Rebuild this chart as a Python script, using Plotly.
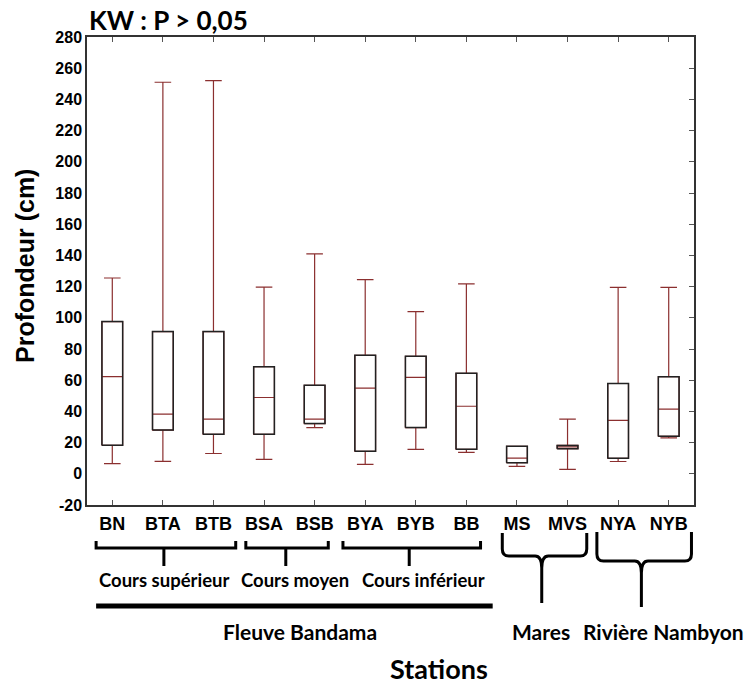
import plotly.graph_objects as go

# ---------------- data ----------------
stations = ["BN", "BTA", "BTB", "BSA", "BSB", "BYA", "BYB", "BB", "MS", "MVS", "NYA", "NYB"]
lower_whisker = [6.5, 8.0, 13.0, 9.2, 29.6, 6.0, 15.7, 13.7, 4.7, 2.8, 7.9, 23.0]
q1_values     = [18.3, 28.0, 25.3, 25.3, 32.2, 14.4, 29.6, 15.7, 7.1, 16.1, 9.9, 24.0]
median_values = [62.3, 38.2, 35.0, 48.9, 35.0, 54.9, 61.8, 43.3, 10.1, 17.2, 34.3, 41.4]
q3_values     = [97.6, 91.2, 91.2, 68.7, 56.7, 76.0, 75.3, 64.4, 17.6, 18.2, 57.9, 62.2]
upper_whisker = [125.5, 251.0, 252.0, 119.7, 141.0, 124.5, 104.0, 121.7, 17.6, 35.0, 119.5, 119.5]
y_ticks = list(range(-20, 281, 20))

title_text = "KW : P > 0,05"
y_title = "Profondeur (cm)"
x_title = "Stations"
sub_groups = ["Cours supérieur", "Cours moyen", "Cours inférieur"]
main_groups = ["Fleuve Bandama", "Mares", "Rivière Nambyon"]

# ---------------- layout helpers ----------------
W, H = 748, 699
L, R, T, B = 87, 54, 37, 194
PLOT_H = H - T - B
BOTTOM_PX = H - B

def Y(py):
    """pixel row -> paper y"""
    return (BOTTOM_PX - py) / PLOT_H

x_pos = list(range(len(stations)))
box_w = 0.41
half = box_w / 2

whisker_col = "#8b2f2f"
calibri_like = "Lato"
arial_like = "Liberation Sans, Arial"

fig = go.Figure()

# boxes with red whiskers / medians
fig.add_trace(go.Box(
    x=x_pos, q1=q1_values, median=median_values, q3=q3_values,
    lowerfence=lower_whisker, upperfence=upper_whisker,
    width=box_w, whiskerwidth=0.8,
    line=dict(color=whisker_col, width=1.2),
    fillcolor="white", boxpoints=False, hoverinfo="skip", showlegend=False,
))

# black box outlines drawn over the boxes
rx, ry = [], []
for xi, a, b in zip(x_pos, q1_values, q3_values):
    rx += [xi - half, xi + half, xi + half, xi - half, xi - half, None]
    ry += [a, a, b, b, a, None]
fig.add_trace(go.Scatter(x=rx, y=ry, mode="lines",
                         line=dict(color="#222222", width=1.5),
                         hoverinfo="skip", showlegend=False))

# invisible trace to hold the right-side tick axis
fig.add_trace(go.Scatter(x=x_pos, y=median_values, mode="none", yaxis="y2",
                         hoverinfo="skip", showlegend=False))

shapes = []
# square brackets under the Bandama sub-reaches
brackets = [(-0.32, 2.44, 1.02), (2.64, 4.27, 3.43), (4.56, 7.28, 5.87)]
for x0, x1, xm in brackets:
    path = (f"M {x0},{Y(541)} L {x0},{Y(548)} L {x1},{Y(548)} L {x1},{Y(541)} "
            f"M {xm},{Y(548)} L {xm},{Y(566)}")
    shapes.append(dict(type="path", path=path, xref="x", yref="paper",
                       line=dict(color="black", width=3)))
# thick bar under Fleuve Bandama
shapes.append(dict(type="line", xref="x", yref="paper", x0=-0.32, x1=7.52,
                   y0=Y(606), y1=Y(606), line=dict(color="black", width=5)))

def brace(xl, xr, xm, ytop, yh, ystem, ybot, dx=0.13, dy=7):
    return (f"M {xl},{Y(ytop)} L {xl},{Y(yh-dy)} Q {xl},{Y(yh)} {xl+dx},{Y(yh)} "
            f"L {xm-dx},{Y(yh)} Q {xm},{Y(yh)} {xm},{Y(ystem)} L {xm},{Y(ybot)} "
            f"M {xm},{Y(ystem)} Q {xm},{Y(yh)} {xm+dx},{Y(yh)} "
            f"L {xr-dx},{Y(yh)} Q {xr},{Y(yh)} {xr},{Y(yh-dy)} L {xr},{Y(ytop)}")

shapes.append(dict(type="path", path=brace(7.71, 9.38, 8.49, 533, 556, 568, 603),
                   xref="x", yref="paper", line=dict(color="black", width=3)))
shapes.append(dict(type="path", path=brace(9.58, 11.45, 10.46, 532, 561, 573, 607),
                   xref="x", yref="paper", line=dict(color="black", width=3)))

annotations = [
    dict(text=f"<b>{title_text}</b>", x=0, y=Y(20), xref="paper", yref="paper",
         xanchor="left", yanchor="middle", showarrow=False,
         font=dict(family=calibri_like, size=26, color="black")),
    dict(text=f"<b>{y_title}</b>", x=(25 - L) / (W - L - R), y=Y(266), xref="paper",
         yref="paper", textangle=-90, xanchor="center", yanchor="middle",
         showarrow=False, font=dict(family=arial_like, size=25, color="black")),
    dict(text=f"<b>{x_title}</b>", x=(439 - L) / (W - L - R), y=Y(668), xref="paper",
         yref="paper", xanchor="center", yanchor="middle", showarrow=False,
         font=dict(family=calibri_like, size=27, color="black")),
]
for txt, xc in zip(sub_groups, [1.03, 3.61, 6.16]):
    annotations.append(dict(text=f"<b>{txt}</b>", x=xc, y=Y(580), xref="x", yref="paper",
                            xanchor="center", yanchor="middle", showarrow=False,
                            font=dict(family=calibri_like, size=18.5, color="black")))
for txt, xc in zip(main_groups, [3.72, 8.48, 10.89]):
    annotations.append(dict(text=f"<b>{txt}</b>", x=xc, y=Y(631), xref="x", yref="paper",
                            xanchor="center", yanchor="middle", showarrow=False,
                            font=dict(family=calibri_like, size=21, color="black")))

fig.update_layout(
    width=W, height=H,
    margin=dict(l=L, r=R, t=T, b=B),
    plot_bgcolor="white", paper_bgcolor="white",
    showlegend=False,
    shapes=shapes, annotations=annotations,
    xaxis=dict(range=[-0.5, 11.5], tickmode="array", tickvals=x_pos,
               ticktext=[f"<b>{s}</b>" for s in stations],
               ticks="inside", ticklen=5, tickcolor="#555", mirror="ticks",
               showline=True, linecolor="#333", linewidth=1.5, showgrid=False,
               zeroline=False, ticklabelstandoff=2,
               tickfont=dict(family=arial_like, size=18, color="black")),
    yaxis=dict(range=[-20, 280], tickmode="array", tickvals=y_ticks,
               ticktext=[f"<b>{v}</b>" for v in y_ticks],
               ticks="", showline=True, linecolor="#333", linewidth=1.5,
               mirror=True, showgrid=False, zeroline=False,
               tickfont=dict(family=arial_like, size=16, color="black")),
    yaxis2=dict(range=[-20, 280], overlaying="y", side="right", tickmode="array",
                tickvals=y_ticks, ticks="inside", ticklen=5, tickcolor="#555",
                showticklabels=False, showgrid=False, zeroline=False, showline=False),
)

fig.write_html("out.html", config={"displayModeBar": False},
               post_script="document.body.style.margin='0';document.body.style.padding='0';")
